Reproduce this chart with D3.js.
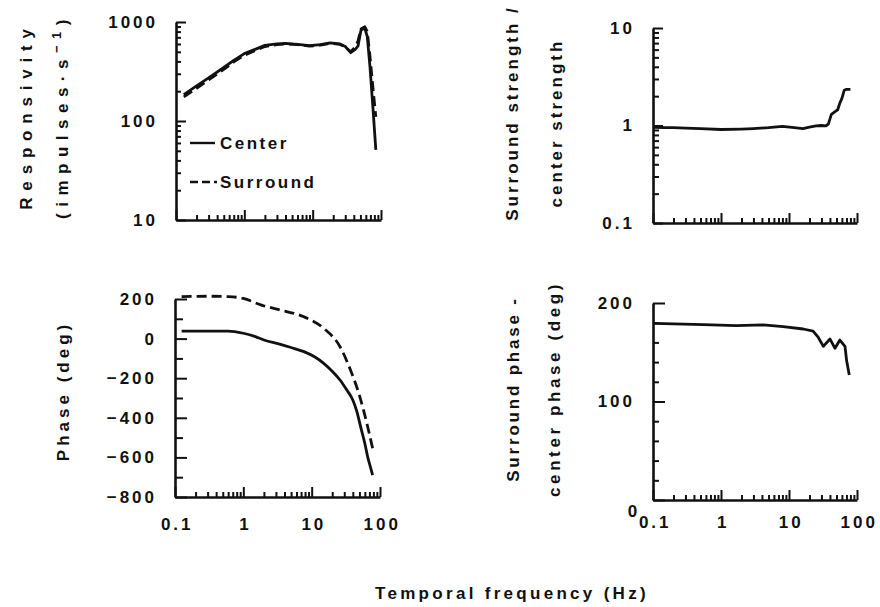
<!DOCTYPE html>
<html><head><meta charset="utf-8">
<script src="https://cdn.jsdelivr.net/npm/d3@7"></script>
<style>
html,body{margin:0;padding:0;background:#fff;}
svg text{font-family:"Liberation Sans",Arial,sans-serif;font-weight:bold;font-size:17px;letter-spacing:3px;fill:#111;}
</style></head><body>
<svg id="c" width="880" height="607"></svg>
<script>
// ---------- data ----------
const ampFreq = [0.13, 0.2, 0.3, 0.5, 0.7, 1, 1.5, 2, 3, 4, 6, 9, 13, 18, 25, 30, 36, 42, 46, 51, 58, 63, 69, 76, 84];
const centerAmp = [185, 226, 273, 347, 410, 480, 535, 580, 600, 608, 595, 576, 590, 615, 600, 565, 490, 530, 570, 830, 864, 710, 353, 140, 51];
const surroundAmp = [175, 214, 260, 332, 395, 462, 520, 565, 590, 600, 590, 570, 585, 610, 595, 560, 500, 560, 640, 850, 895, 800, 450, 220, 110];

const ratioFreq = [0.103, 0.15, 0.2, 0.3, 0.5, 1, 2, 3, 5, 8, 12, 16, 20, 25, 30, 35, 38, 42, 47, 52, 56, 60, 65, 70, 80];
const ratioVal = [0.96, 0.95, 0.95, 0.94, 0.93, 0.91, 0.92, 0.93, 0.95, 0.98, 0.95, 0.93, 0.96, 0.99, 1.0, 0.99, 1.04, 1.3, 1.38, 1.45, 1.7, 1.9, 2.3, 2.35, 2.35];

const phaseFreq = [0.125, 0.3, 0.6, 1, 1.5, 2, 3.5, 5, 7.7, 11, 15, 20, 26, 32, 40, 46, 52, 60, 66, 72, 78];
const centerPhase = [38, 38, 38, 27, 10, -7, -29, -45, -66, -92, -125, -165, -209, -255, -310, -370, -445, -530, -597, -645, -689];
const surrPhaseFreq = [0.125, 0.3, 0.6, 1, 1.8, 3.5, 7.7, 15, 26, 37, 49, 66, 80];
const surroundPhase = [212, 214, 212, 203, 170, 144, 110, 52, -41, -159, -277, -445, -571];

const diffFreq = [0.103, 0.55, 1.66, 4.2, 8.2, 16.2, 22.6, 27, 32, 40, 47.5, 56, 66.6, 70.5, 77];
const diffPhase = [179.4, 178, 177, 177.7, 176, 173.6, 171.5, 165, 156, 163.5, 154, 162.4, 156, 141, 127];

const xMajor = [0.1, 1, 10, 100];
const xTickLabels = ["0.1", "1", "10", "100"];
const ampTicks = [10, 100, 1000];
const ratioTicks = [0.1, 1, 10];
const phaseTicks = [-800, -600, -400, -200, 0, 200];
const diffTicks = [0, 100, 200];
const legendLabels = ["Center", "Surround"];

// ---------- drawing ----------
const svg = d3.select("#c");
const INK = "#111";

function logMinor(lo, hi) {
  const out = [];
  for (let d = lo; d < hi * 0.999; d *= 10)
    for (let k = 2; k <= 9; k++) out.push(d * k);
  return out;
}
const xMinor = logMinor(0.1, 100);

function styleAxis(g, domainW) {
  g.select(".domain").attr("stroke", INK).attr("stroke-width", domainW);
  g.selectAll(".tick line").attr("stroke", INK).attr("stroke-width", 2);
  g.selectAll(".tick text").attr("fill", INK).style("font-size", "17px");
}

function panel(p) {
  const x = d3.scaleLog().domain([0.1, 100]).range([p.x0, p.x1]);
  const y = p.log ? d3.scaleLog().domain(p.yDomain).range([p.yBot, p.yTop])
                  : d3.scaleLinear().domain(p.yDomain).range([p.yBot, p.yTop]);
  const gx = svg.append("g").attr("transform", `translate(0,${p.yBot})`);
  gx.call(d3.axisBottom(x).tickValues(xMajor).tickSizeInner(-10).tickSizeOuter(0)
      .tickPadding(p.xPad || 0)
      .tickFormat((d, i) => p.xLabels ? xTickLabels[i] : ""));
  styleAxis(gx, 2.6);
  gx.selectAll(".tick text").attr("dx", "0.1em");
  const gx2 = svg.append("g").attr("transform", `translate(0,${p.yBot})`);
  gx2.call(d3.axisBottom(x).tickValues(xMinor).tickSizeInner(-5).tickSizeOuter(0).tickFormat(""));
  gx2.select(".domain").remove();
  styleAxis(gx2, 2);
  const gy = svg.append("g").attr("transform", `translate(${p.x0},0)`);
  gy.call(d3.axisLeft(y).tickValues(p.yMajor).tickSizeInner(-p.majLen).tickSizeOuter(0)
      .tickPadding(18).tickFormat(p.yFmt));
  styleAxis(gy, 2.6);
  const gy2 = svg.append("g").attr("transform", `translate(${p.x0},0)`);
  gy2.call(d3.axisLeft(y).tickValues(p.yMinor).tickSizeInner(-p.minLen).tickSizeOuter(0).tickFormat(""));
  gy2.select(".domain").remove();
  styleAxis(gy2, 2);
  return {x, y, gx, gy};
}

function drawLine(P, fx, fy, dashed, curve) {
  const data = fx.map((f, i) => [f, fy[i]]);
  svg.append("path").datum(data)
    .attr("fill", "none").attr("stroke", INK).attr("stroke-width", 2.8)
    .attr("stroke-linejoin", "round")
    .attr("stroke-dasharray", dashed ? "10,5" : null)
    .attr("d", d3.line().x(d => P.x(d[0])).y(d => P.y(d[1])).curve(curve || d3.curveLinear));
}

function vlabel(lines, cy) {
  lines.forEach(l => {
    const t = svg.append("text").attr("text-anchor", "middle")
      .style("letter-spacing", (l.ls || 3) + "px")
      .attr("transform", `translate(${l.x},${cy + (l.dy || 0)}) rotate(-90)`);
    l.parts.forEach(pt => {
      const s = t.append("tspan").text(pt.t);
      if (pt.sup) s.attr("baseline-shift", "super").style("font-size", "13px");
    });
  });
}

// Top-left: responsivity
const TL = panel({x0: 176, x1: 381, yTop: 22, yBot: 220, log: true, yDomain: [10, 1000],
  yMajor: ampTicks, yMinor: logMinor(10, 1000), majLen: 10, minLen: 5, yFmt: d => String(d)});
drawLine(TL, ampFreq, surroundAmp, true);
drawLine(TL, ampFreq, centerAmp, false);

// legend
const lg = svg.append("g");
lg.append("line").attr("x1", 190).attr("x2", 215).attr("y1", 143).attr("y2", 143)
  .attr("stroke", INK).attr("stroke-width", 2.4);
lg.append("text").attr("x", 220).attr("y", 149).style("letter-spacing", "2.5px").text(legendLabels[0]);
lg.append("line").attr("x1", 190).attr("x2", 217).attr("y1", 182).attr("y2", 182)
  .attr("stroke", INK).attr("stroke-width", 2.4).attr("stroke-dasharray", "8,4");
lg.append("text").attr("x", 220).attr("y", 188).style("letter-spacing", "2.5px").text(legendLabels[1]);

// Top-right: ratio
const TR = panel({x0: 653, x1: 857, yTop: 28, yBot: 223, log: true, yDomain: [0.1, 10],
  yMajor: ratioTicks, yMinor: logMinor(0.1, 10), majLen: 10, minLen: 6, yFmt: d => d === 0.1 ? "0.1" : String(d)});
drawLine(TR, ratioFreq, ratioVal, false);

// Bottom-left: phase
const BL = panel({x0: 175, x1: 380, yTop: 299, yBot: 497, log: false, yDomain: [-800, 200],
  yMajor: phaseTicks, yMinor: [-700, -500, -300, -100, 100], majLen: 12, minLen: 8,
  yFmt: d => d < 0 ? "\u2212" + Math.abs(d) : String(d), xLabels: true, xPad: 21});
drawLine(BL, surrPhaseFreq, surroundPhase, true, d3.curveMonotoneX);
drawLine(BL, phaseFreq, centerPhase, false, d3.curveMonotoneX);

// Bottom-right: phase difference
const BR = panel({x0: 653, x1: 857, yTop: 303, yBot: 500, log: false, yDomain: [0, 200],
  yMajor: diffTicks, yMinor: [20, 40, 60, 80, 120, 140, 160, 180], majLen: 12, minLen: 6,
  yFmt: d => String(d), xLabels: true, xPad: 16});
BR.gy.selectAll(".tick text").filter(d => d === 0).attr("dy", "0.95em").attr("dx", "0.3em");
drawLine(BR, diffFreq, diffPhase, false);

// axis titles
vlabel([{x: 32, ls: 6.8, parts: [{t: "Responsivity"}]},
        {x: 68, ls: 6.5, parts: [{t: "(impulses\u00b7s"}, {t: "\u22121", sup: true}, {t: ")"}]}], 116);
vlabel([{x: 518, dy: -5, parts: [{t: "Surround strength /"}]},
        {x: 562, dy: 5, parts: [{t: "center strength"}]}], 118);
vlabel([{x: 69, ls: 4, parts: [{t: "Phase (deg)"}]}], 391);
vlabel([{x: 519, ls: 2.8, parts: [{t: "Surround phase -"}]},
        {x: 560, ls: 3.6, parts: [{t: "center phase (deg)"}]}], 389);

svg.append("text").attr("x", 375).attr("y", 599).style("letter-spacing", "3.3px").text("Temporal frequency (Hz)");
</script>
</body></html>
